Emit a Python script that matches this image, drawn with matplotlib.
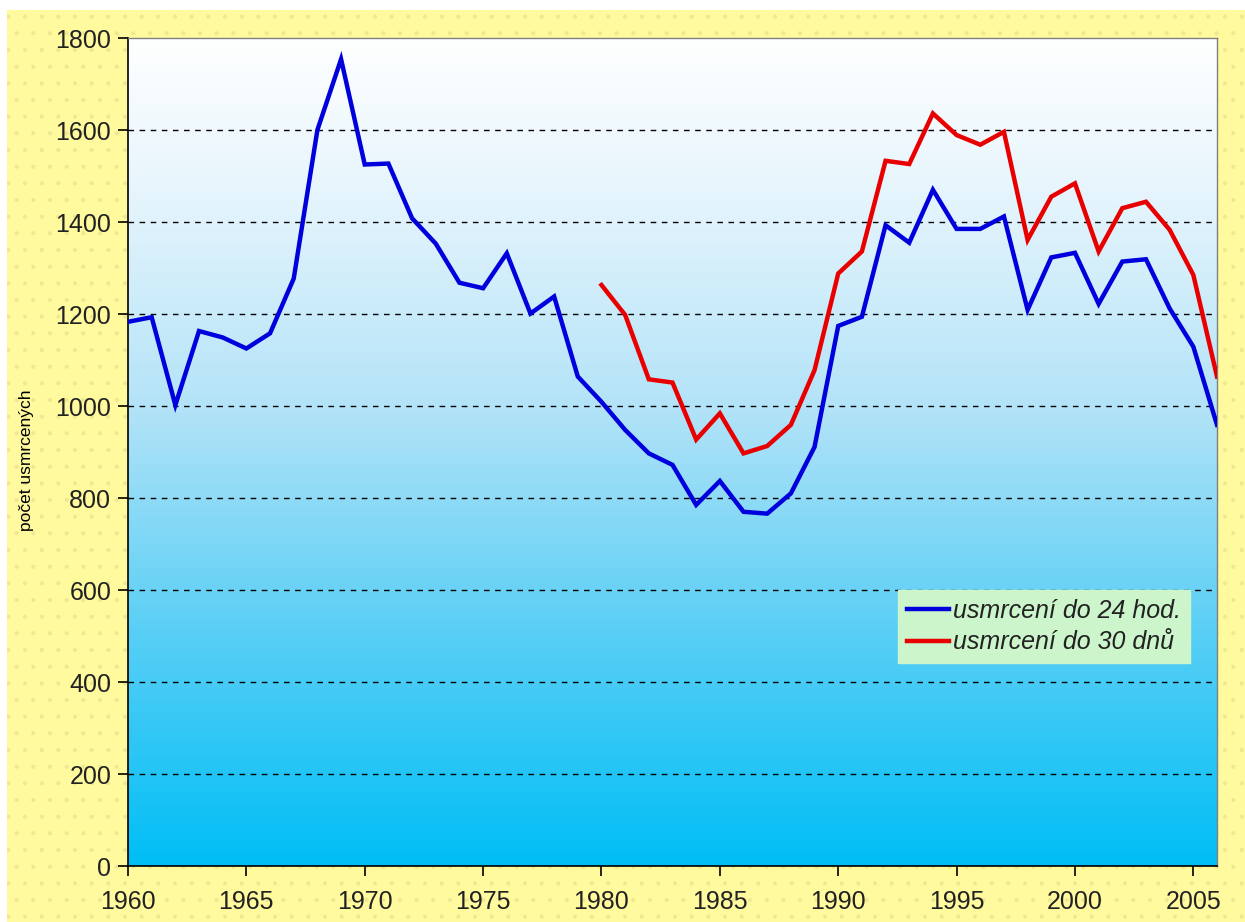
import numpy as np
import matplotlib
matplotlib.use('Agg')
import matplotlib.pyplot as plt
from matplotlib.colors import LinearSegmentedColormap
from matplotlib.patches import Rectangle

# data
years_24h = list(range(1960, 2007))
killed_24h = [1183, 1193, 1002, 1163, 1149, 1125, 1158, 1277, 1600, 1754,
              1525, 1527, 1408, 1353, 1268, 1256, 1332, 1201, 1238, 1064,
              1009, 948, 897, 872, 785, 837, 770, 766, 810, 911,
              1174, 1194, 1393, 1355, 1470, 1385, 1385, 1412, 1209, 1323,
              1333, 1222, 1314, 1319, 1212, 1129, 959]

years_30d = list(range(1980, 2007))
killed_30d = [1263, 1198, 1058, 1051, 927, 984, 897, 913, 959, 1078,
              1288, 1336, 1533, 1526, 1636, 1589, 1568, 1596, 1361, 1455,
              1484, 1336, 1430, 1444, 1383, 1285, 1064]

x_ticks = [1960, 1965, 1970, 1975, 1980, 1985, 1990, 1995, 2000, 2005]
y_ticks = [0, 200, 400, 600, 800, 1000, 1200, 1400, 1600, 1800]

label_24h = 'usmrcení do 24 hod.'
label_30d = 'usmrcení do 30 dnů'
y_label = 'počet usmrcených'

plt.rcParams['font.family'] = ['Liberation Sans', 'DejaVu Sans']

fig = plt.figure(figsize=(12.45, 9.22), dpi=100, facecolor='white')

# yellow dotted background
bg = Rectangle((7 / 1245, 0), 1 - 7 / 1245, 1 - 10 / 922, transform=fig.transFigure,
               facecolor='#fffa9e', linewidth=0, zorder=-10)
fig.patches.append(bg)
plt.rcParams['hatch.linewidth'] = 0.5
dots = Rectangle((7 / 1245, 0), 1 - 7 / 1245, 1 - 10 / 922, transform=fig.transFigure,
                 facecolor='none', edgecolor='#efe792', hatch='.', linewidth=0, zorder=-9)
fig.patches.append(dots)

ax = fig.add_axes([128 / 1245, 56 / 922, 1089 / 1245, 828 / 922])
ax.set_xlim(1960, 2006)
ax.set_ylim(0, 1800)

# white -> sky blue gradient in the plot area
cmap = LinearSegmentedColormap.from_list(
    'sky', [(0, '#00bef5'), (0.3, '#5fd0f5'), (0.55, '#b2e3f8'),
            (0.8, '#e4f4fc'), (1, '#ffffff')])
grad = np.linspace(0, 1, 256).reshape(-1, 1)
ax.imshow(grad, cmap=cmap, aspect='auto', extent=[1960, 2006, 0, 1800],
          origin='lower', zorder=0)

for y in y_ticks[1:-1]:
    ax.axhline(y, color='black', linestyle=(0, (4, 4)), linewidth=1, zorder=1)

ax.plot(years_24h, killed_24h, color='#0000dd', linewidth=3.2,
        solid_joinstyle='miter', label=label_24h, zorder=3)
ax.plot(years_30d, killed_30d, color='#e80000', linewidth=3.2,
        solid_joinstyle='miter', label=label_30d, zorder=3)

ax.set_xticks(x_ticks)
ax.set_yticks(y_ticks)
ax.tick_params(axis='both', direction='out', length=7, width=1.2,
               labelsize=18, colors='black', labelcolor='#222222')
ax.tick_params(axis='x', pad=10)
ax.tick_params(axis='y', pad=5)

for side in ['left', 'bottom']:
    ax.spines[side].set_color('black')
    ax.spines[side].set_linewidth(1.2)
for side in ['top', 'right']:
    ax.spines[side].set_color('#808080')
    ax.spines[side].set_linewidth(1)

ax.set_ylabel(y_label, fontsize=12.5)
ax.yaxis.set_label_coords(-0.086, 0.49)

leg = ax.legend(loc='upper left', bbox_to_anchor=((898 - 128) / 1089, (866 - 590) / 828),
                prop={'style': 'italic', 'size': 18}, frameon=True, fancybox=False,
                handlelength=1.7, handletextpad=0.15, borderpad=0.35,
                labelspacing=0.3, borderaxespad=0)
leg.get_frame().set_facecolor('#ccf5cc')
leg.get_frame().set_edgecolor('#ccf5cc')
leg.get_frame().set_alpha(1)
for t in leg.get_texts():
    t.set_color('#222222')

fig.savefig('out.png', dpi=100, facecolor=fig.get_facecolor())
